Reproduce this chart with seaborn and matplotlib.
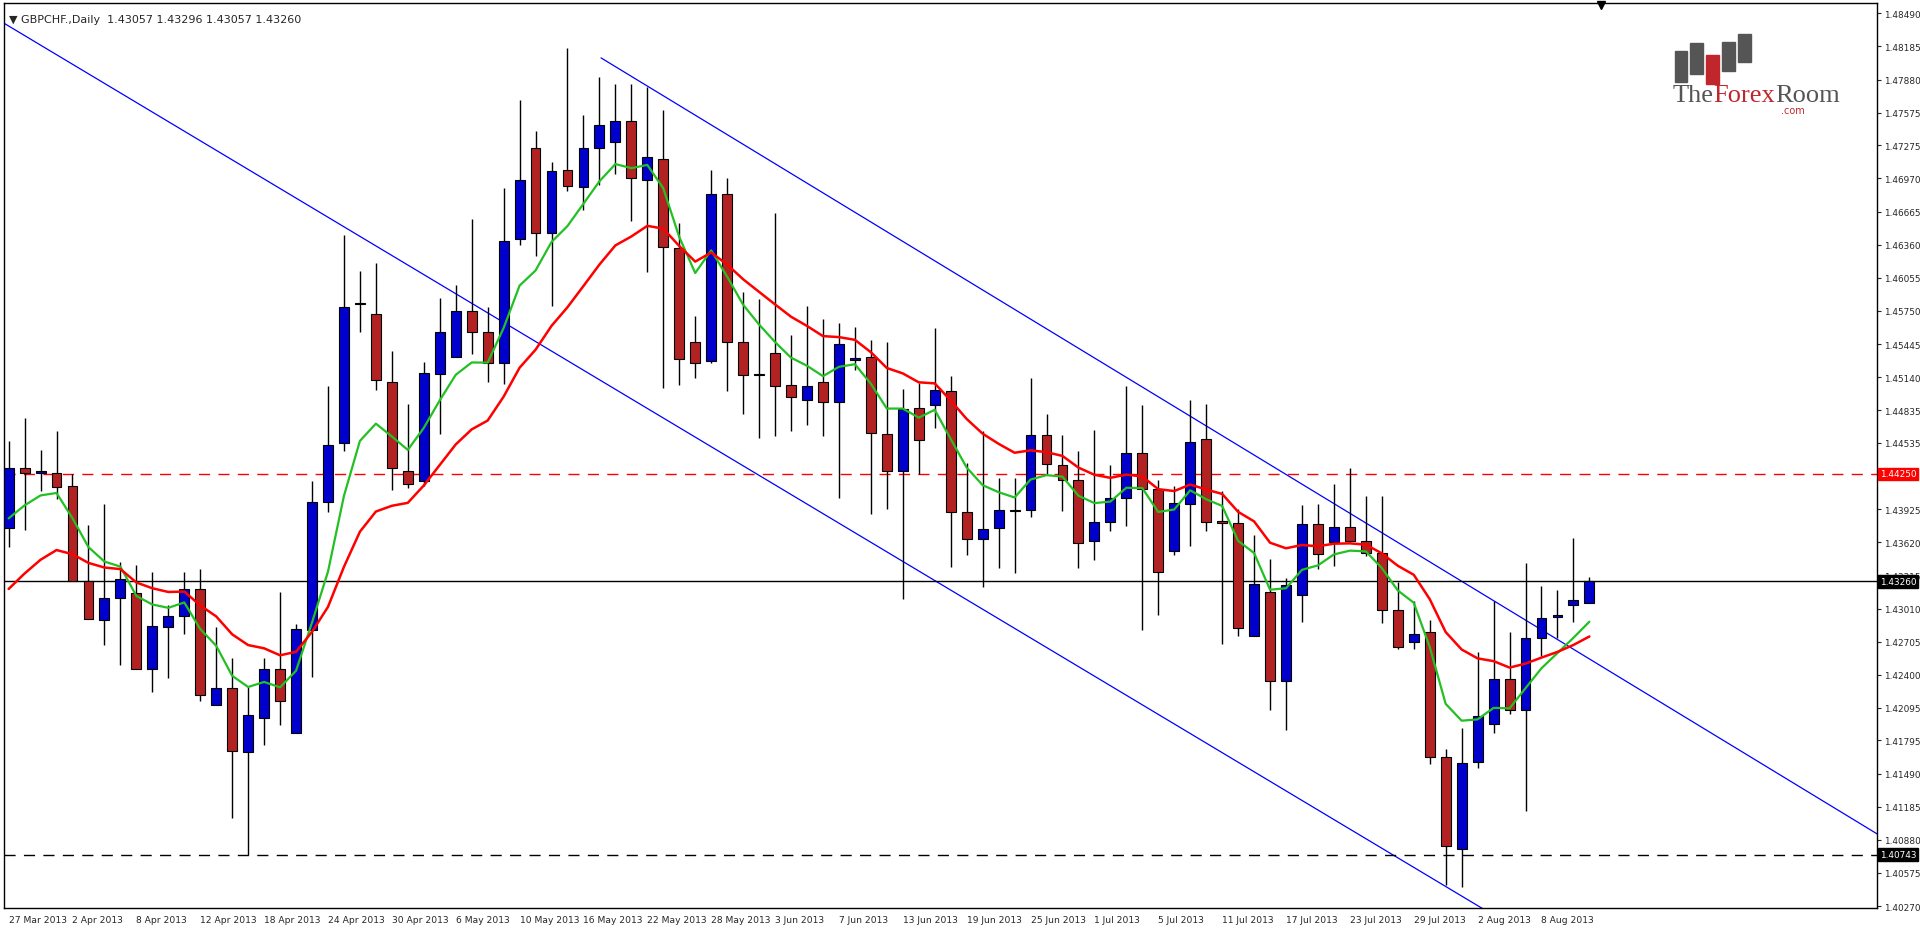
import numpy as np
import pandas as pd
import seaborn as sns
import matplotlib
matplotlib.use("Agg")
import matplotlib.pyplot as plt
from matplotlib.transforms import offset_copy

sns.set_style("white")
plt.rcParams['font.family'] = ['DejaVu Sans']

# daily GBPCHF candles (open, high, low, close)
opens = [1.4375, 1.4430, 1.4426, 1.4426, 1.4414, 1.4326, 1.4290, 1.4311, 1.4315, 1.4245,
         1.4284, 1.4294, 1.4319, 1.4212, 1.4228, 1.4169, 1.4200, 1.4245, 1.4186, 1.4281,
         1.4399, 1.4453, 1.4581, 1.4572, 1.4510, 1.4428, 1.4418, 1.4517, 1.4533, 1.4575,
         1.4556, 1.4527, 1.4641, 1.4725, 1.4647, 1.4705, 1.4689, 1.4725, 1.4731, 1.4750,
         1.4696, 1.4715, 1.4633, 1.4546, 1.4529, 1.4683, 1.4546, 1.4516, 1.4536, 1.4507,
         1.4493, 1.4510, 1.4491, 1.4530, 1.4533, 1.4462, 1.4428, 1.4486, 1.4488, 1.4501,
         1.4390, 1.4365, 1.4375, 1.4392, 1.4392, 1.4461, 1.4433, 1.4419, 1.4363, 1.4381,
         1.4403, 1.4444, 1.4411, 1.4354, 1.4397, 1.4457, 1.4382, 1.4380, 1.4276, 1.4316,
         1.4234, 1.4313, 1.4379, 1.4362, 1.4376, 1.4363, 1.4352, 1.4300, 1.4270, 1.4279,
         1.4164, 1.4080, 1.4160, 1.4195, 1.4236, 1.4208, 1.4274, 1.4293, 1.4304, 1.43057]
highs = [1.4455, 1.4476, 1.4447, 1.4464, 1.4425, 1.4378, 1.4397, 1.4344, 1.4341, 1.4335,
         1.4304, 1.4335, 1.4337, 1.4284, 1.4255, 1.4229, 1.4255, 1.4316, 1.4287, 1.4418,
         1.4506, 1.4645, 1.4612, 1.4619, 1.4538, 1.4489, 1.4528, 1.4587, 1.4599, 1.4660,
         1.4579, 1.4688, 1.4769, 1.4741, 1.4712, 1.4817, 1.4755, 1.4790, 1.4784, 1.4784,
         1.4781, 1.4760, 1.4656, 1.4570, 1.4705, 1.4697, 1.4592, 1.4586, 1.4665, 1.4553,
         1.4580, 1.4568, 1.4564, 1.4560, 1.4548, 1.4546, 1.4503, 1.4509, 1.4559, 1.4515,
         1.4435, 1.4464, 1.4421, 1.4421, 1.4513, 1.4480, 1.4461, 1.4446, 1.4465, 1.4433,
         1.4506, 1.4488, 1.4419, 1.4414, 1.4493, 1.4489, 1.4409, 1.4393, 1.4369, 1.4347,
         1.4329, 1.4396, 1.4397, 1.4416, 1.4430, 1.4405, 1.4405, 1.4325, 1.4308, 1.4290,
         1.4172, 1.4191, 1.4261, 1.4308, 1.4279, 1.4343, 1.4322, 1.4318, 1.4366, 1.43296]
lows = [1.4358, 1.4373, 1.4409, 1.4402, 1.4326, 1.4291, 1.4267, 1.4249, 1.4245, 1.4224,
        1.4237, 1.4278, 1.4216, 1.4212, 1.4108, 1.4074, 1.4175, 1.4194, 1.4186, 1.4238,
        1.4390, 1.4446, 1.4556, 1.4502, 1.4410, 1.4412, 1.4414, 1.4462, 1.4533, 1.4535,
        1.4510, 1.4508, 1.4636, 1.4626, 1.4580, 1.4685, 1.4668, 1.4691, 1.4701, 1.4658,
        1.4611, 1.4504, 1.4507, 1.4513, 1.4527, 1.4501, 1.4480, 1.4458, 1.4460, 1.4464,
        1.4470, 1.4460, 1.4403, 1.4521, 1.4388, 1.4393, 1.4310, 1.4425, 1.4467, 1.4339,
        1.4350, 1.4321, 1.4338, 1.4334, 1.4385, 1.4425, 1.4391, 1.4338, 1.4346, 1.4372,
        1.4377, 1.4281, 1.4295, 1.4350, 1.4359, 1.4372, 1.4268, 1.4276, 1.4276, 1.4208,
        1.4189, 1.4289, 1.4337, 1.4340, 1.4362, 1.4349, 1.4288, 1.4264, 1.4264, 1.4158,
        1.4046, 1.4045, 1.4154, 1.4186, 1.4204, 1.4115, 1.4257, 1.4274, 1.4289, 1.43057]
closes = [1.4430, 1.4426, 1.4428, 1.4413, 1.4326, 1.4291, 1.4311, 1.4328, 1.4245, 1.4285,
          1.4294, 1.4319, 1.4221, 1.4228, 1.4170, 1.4203, 1.4245, 1.4216, 1.4282, 1.4399,
          1.4452, 1.4579, 1.4582, 1.4511, 1.4430, 1.4416, 1.4518, 1.4556, 1.4575, 1.4556,
          1.4527, 1.4639, 1.4696, 1.4647, 1.4704, 1.4690, 1.4725, 1.4746, 1.4750, 1.4697,
          1.4717, 1.4634, 1.4531, 1.4527, 1.4683, 1.4546, 1.4516, 1.4517, 1.4506, 1.4496,
          1.4506, 1.4491, 1.4545, 1.4532, 1.4463, 1.4428, 1.4485, 1.4456, 1.4502, 1.4390,
          1.4365, 1.4374, 1.4392, 1.4391, 1.4461, 1.4434, 1.4419, 1.4361, 1.4381, 1.4403,
          1.4444, 1.4411, 1.4335, 1.4398, 1.4454, 1.4381, 1.4380, 1.4283, 1.4324, 1.4234,
          1.4323, 1.4379, 1.4351, 1.4376, 1.4363, 1.4352, 1.4300, 1.4266, 1.4278, 1.4164,
          1.4082, 1.4159, 1.4202, 1.4236, 1.4208, 1.4274, 1.4292, 1.4295, 1.4309, 1.43260]

date_labels = ["27 Mar 2013", "2 Apr 2013", "8 Apr 2013", "12 Apr 2013", "18 Apr 2013",
               "24 Apr 2013", "30 Apr 2013", "6 May 2013", "10 May 2013", "16 May 2013",
               "22 May 2013", "28 May 2013", "3 Jun 2013", "7 Jun 2013", "13 Jun 2013",
               "19 Jun 2013", "25 Jun 2013", "1 Jul 2013", "5 Jul 2013", "11 Jul 2013",
               "17 Jul 2013", "23 Jul 2013", "29 Jul 2013", "2 Aug 2013", "8 Aug 2013"]
price_ticks = [1.48490, 1.48185, 1.47880, 1.47575, 1.47275, 1.46970, 1.46665, 1.46360,
               1.46055, 1.45750, 1.45445, 1.45140, 1.44835, 1.44535, 1.43925, 1.43620,
               1.43315, 1.43010, 1.42705, 1.42400, 1.42095, 1.41795, 1.41490, 1.41185,
               1.40880, 1.40575, 1.40270]

# levels and channel (anchor points: candle index, price)
resistance = 1.44250
last_price = 1.43260
support = 1.40743
upper_channel = [(37.1, 1.4808), (90.9, 1.4327)]
lower_channel = [(-0.3, 1.4840), (86.6, 1.4075)]

# moving averages: EMA seeded with the value shown at the first candle
fast_seed, fast_span = 1.4384, 6
slow_seed, slow_span = 1.4319, 14


def ema(values, seed, span):
    a = 2.0 / (span + 1)
    out = [seed]
    for v in values[1:]:
        out.append(out[-1] + a * (v - out[-1]))
    return out


df = pd.DataFrame({"open": opens, "high": highs, "low": lows, "close": closes})
df["i"] = np.arange(len(df))
df["fast"] = ema(closes, fast_seed, fast_span)
df["slow"] = ema(closes, slow_seed, slow_span)
up = df["close"] >= df["open"]

fig = plt.figure(figsize=(19.2, 9.29), dpi=100)
ax = fig.add_axes([0.002, 0.021, 0.9755, 0.975])

xmin, xmax = -0.3, 117.0
ymin, ymax = 1.40248, 1.48588

# channel lines
for (x1, y1), (x2, y2) in [upper_channel, lower_channel]:
    k = (y2 - y1) / (x2 - x1)
    xs = np.array([x1, xmax])
    ax.plot(xs, y1 + k * (xs - x1), color="#0000ff", lw=0.9, zorder=1)

ax.axhline(resistance, color="#ff0000", lw=1, ls=(0, (8, 6)), zorder=1)
ax.axhline(last_price, color="black", lw=1, zorder=1)
ax.axhline(support, color="black", lw=1, ls=(0, (8, 6)), zorder=1)

# candles
ax.vlines(df["i"], df["low"], df["high"], color="black", lw=1, zorder=2)
body_lo = np.minimum(df["open"], df["close"])
body_h = np.maximum(np.abs(df["close"] - df["open"]), 0.00008)
colors = np.where(up, "#0000cc", "#b22222")
ax.bar(df["i"], body_h, bottom=body_lo, width=0.62, color=colors,
       edgecolor="black", linewidth=0.8, zorder=3)

sns.lineplot(data=df, x="i", y="fast", color="#22c022", lw=1.6, ax=ax, zorder=4)
sns.lineplot(data=df, x="i", y="slow", color="#ff0000", lw=1.8, ax=ax, zorder=4)

ax.set_xlim(xmin, xmax)
ax.set_ylim(ymin, ymax)
ax.set_xlabel("")
ax.set_ylabel("")

ax.set_xticks(np.arange(0, 4 * len(date_labels), 4))
ax.set_xticklabels(date_labels, fontsize=6.6, ha="left")
ax.tick_params(axis="x", length=3, pad=2)
ax.yaxis.tick_right()
ax.set_yticks(price_ticks)
ax.set_yticklabels([f"{p:.5f}" for p in price_ticks], fontsize=6.4)
ax.tick_params(axis="y", length=3, pad=2, direction="out")
for s in ax.spines.values():
    s.set_color("black")
    s.set_linewidth(1)

# right axis value boxes
for val, bg in [(resistance, "#ff0000"), (last_price, "black"), (support, "black")]:
    ax.text(1.0015, val, f"{val:.5f}", transform=ax.get_yaxis_transform(),
            fontsize=6.4, color="white", va="center", ha="left", zorder=10,
            bbox=dict(boxstyle="square,pad=0.2", fc=bg, ec=bg))

ax.text(0.003, 0.988, "\u25bc GBPCHF.,Daily  1.43057 1.43296 1.43057 1.43260",
        transform=ax.transAxes, fontsize=8, va="top", ha="left")
ax.plot([0.8525], [0.997], marker="v", color="black", ms=6,
        transform=ax.transAxes, clip_on=False)

# logo
bar_specs = [(0.892, 0.947, 0.034, "#555555"), (0.9005, 0.955, 0.034, "#555555"),
             (0.909, 0.942, 0.032, "#c0272d"), (0.9175, 0.957, 0.032, "#555555"),
             (0.926, 0.965, 0.03, "#555555")]
for bx, by, bh, bc in bar_specs:
    ax.add_patch(plt.Rectangle((bx, by - bh), 0.0068, bh, transform=ax.transAxes,
                               color=bc, zorder=5))
fig.canvas.draw()
renderer = fig.canvas.get_renderer()
trans = ax.transAxes
for word, col in [("The", "#555555"), ("Forex", "#c0272d"), ("Room", "#555555")]:
    t = ax.text(0.891, 0.886, word, transform=trans, fontsize=19,
                family="Liberation Serif", color=col, va="bottom", zorder=6)
    w = t.get_window_extent(renderer).width
    trans = offset_copy(trans, fig=fig, x=w, y=0, units="dots")
ax.text(0.9615, 0.887, ".com", transform=ax.transAxes, fontsize=7,
        color="#c0272d", va="top", ha="right", zorder=6)

fig.savefig("out.png", dpi=100, facecolor="white")
